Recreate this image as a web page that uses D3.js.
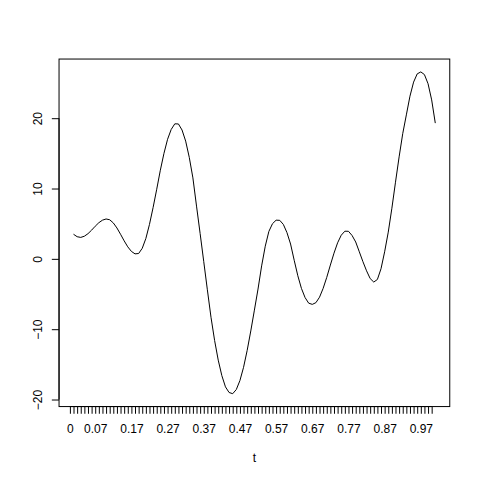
<!DOCTYPE html>
<html>
<head>
<meta charset="utf-8">
<script src="https://cdn.jsdelivr.net/npm/d3@7"></script>
<style>
  body { margin: 0; background: #fff; }
  text { font-family: "Liberation Sans", Arial, sans-serif; font-size: 12px; fill: #000; }
</style>
</head>
<body>
<script>
// series values, one per step of t (0.01 .. 1.01)
var values = [
  3.5, 3.15, 3.05, 3.22, 3.58, 4.08, 4.64, 5.14, 5.5, 5.67,
  5.56, 5.11, 4.39, 3.5, 2.56, 1.71, 1.06, 0.71, 0.76, 1.5,
  2.9, 4.9, 7.3, 9.9, 12.6, 15.0, 17.0, 18.4, 19.2, 19.18,
  18.32, 16.74, 14.43, 11.51, 7.5, 3.6, -0.4, -4.4, -8.3, -11.6,
  -14.4, -16.6, -18.2, -19.0, -19.17, -18.58, -17.3, -15.42, -13.02, -10.25,
  -7.29, -4.29, -1.0, 1.8, 3.9, 5.0, 5.5, 5.48, 4.9, 3.73,
  2.11, -0.2, -2.4, -4.2, -5.5, -6.3, -6.47, -6.23, -5.45, -4.2,
  -2.63, -0.88, 0.81, 2.28, 3.36, 3.93, 3.92, 3.32, 2.4, 1.0,
  -0.4, -1.7, -2.8, -3.3, -2.93, -1.4, 1.0, 3.8, 7.2, 10.9,
  14.5, 17.8, 20.47, 23.13, 25.13, 26.3, 26.58, 26.2, 24.9, 22.6,
  19.3
];
var tStart = 0.01, tStep = 0.01;
var tValues = values.map(function(v, i) { return +(tStart + i * tStep).toFixed(2); });

// axis ticks
var xTicks = d3.range(0, 101).map(function(k) { return k / 100; });
var xTickLabels = ["0", "0.07", "0.17", "0.27", "0.37", "0.47", "0.57", "0.67", "0.77", "0.87", "0.97"];
var yTicks = [-20, -10, 0, 10, 20];
var xLabel = "t";

var width = 480, height = 480;
var plotLeft = 59.04, plotRight = 449.76, plotTop = 59.04, plotBottom = 406.56;

function padded(ext) {
    var d = (ext[1] - ext[0]) * 0.04;
    return [ext[0] - d, ext[1] + d];
}

var x = d3.scaleLinear()
    .domain(padded(d3.extent(tValues)))
    .range([plotLeft, plotRight]);

var y = d3.scaleLinear()
    .domain(padded(d3.extent(values)))
    .range([plotBottom, plotTop]);

var svg = d3.select("body")
    .append("svg")
    .attr("width", width)
    .attr("height", height);

svg.append("rect")
    .attr("width", width)
    .attr("height", height)
    .attr("fill", "#fff");

var line = d3.line()
    .x(function(d, i) { return x(tValues[i]); })
    .y(function(d) { return y(d); });

svg.append("path")
    .datum(values)
    .attr("d", line)
    .attr("fill", "none")
    .attr("stroke", "#000")
    .attr("stroke-width", 1);

// box
svg.append("rect")
    .attr("x", plotLeft)
    .attr("y", plotTop)
    .attr("width", plotRight - plotLeft)
    .attr("height", plotBottom - plotTop)
    .attr("fill", "none")
    .attr("stroke", "#000")
    .attr("stroke-width", 1);

// x axis: every tick drawn, only non-overlapping labels shown
var xAxis = d3.axisBottom(x)
    .tickValues(xTicks)
    .tickSize(7.2)
    .tickFormat(function(d) {
        var s = d3.format("~g")(d);
        return xTickLabels.indexOf(s) >= 0 ? s : "";
    });

var gx = svg.append("g")
    .attr("transform", "translate(0," + plotBottom + ")")
    .call(xAxis);
gx.select(".domain")
    .attr("d", "M" + x(xTicks[0]) + ",0H" + x(xTicks[xTicks.length - 1]));
gx.selectAll("line").attr("stroke", "#000");
gx.selectAll("text")
    .attr("y", 26.5)
    .attr("dy", null)
    .attr("fill", "#000")
    .style("font-family", "'Liberation Sans', Arial, sans-serif")
    .style("font-size", "12px");

// y axis with rotated labels
var yAxis = d3.axisLeft(y)
    .tickValues(yTicks)
    .tickSize(7.2)
    .tickFormat(d3.format("d"));

var gy = svg.append("g")
    .attr("transform", "translate(" + plotLeft + ",0)")
    .call(yAxis);
gy.select(".domain")
    .attr("d", "M0," + y(yTicks[0]) + "V" + y(yTicks[yTicks.length - 1]));
gy.selectAll("line").attr("stroke", "#000");
gy.selectAll("text")
    .attr("x", null)
    .attr("dy", null)
    .attr("fill", "#000")
    .attr("text-anchor", "middle")
    .attr("transform", "translate(-17,0) rotate(-90)")
    .style("font-family", "'Liberation Sans', Arial, sans-serif")
    .style("font-size", "12px");

svg.append("text")
    .attr("x", (plotLeft + plotRight) / 2)
    .attr("y", 462)
    .attr("text-anchor", "middle")
    .attr("fill", "#000")
    .style("font-family", "'Liberation Sans', Arial, sans-serif")
    .style("font-size", "12px")
    .text(xLabel);
</script>
</body>
</html>
